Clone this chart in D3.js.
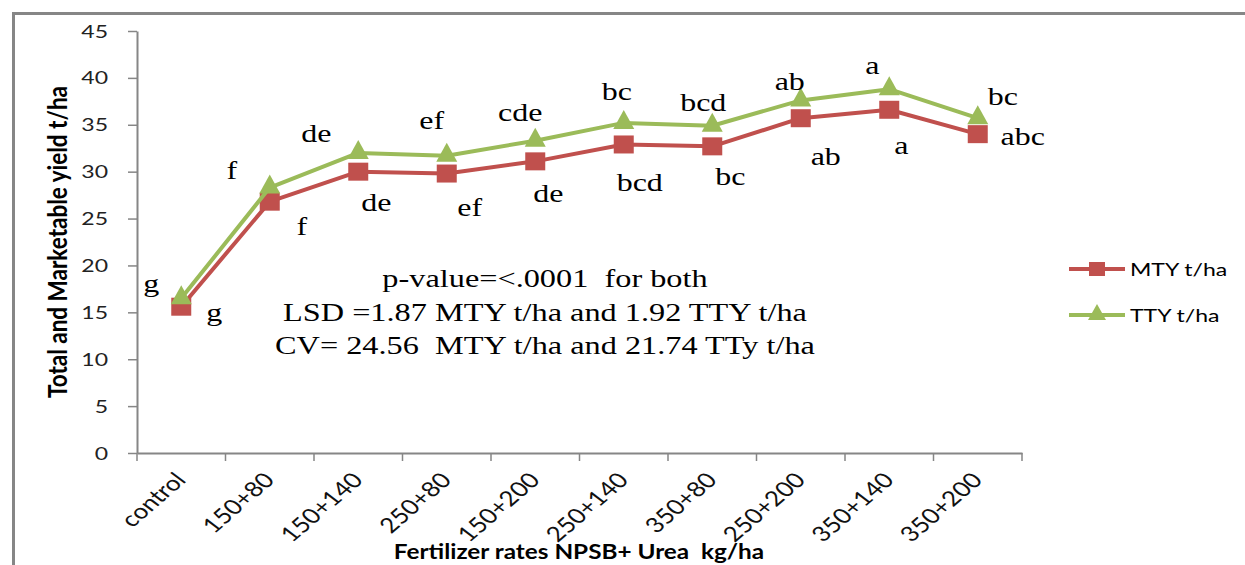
<!DOCTYPE html>
<html><head><meta charset="utf-8">
<script src="https://cdn.jsdelivr.net/npm/d3@7"></script>
<style>body{margin:0;background:#fff} svg{display:block}
.serif{font-family:"Liberation Serif","Times New Roman",Tinos,"DejaVu Serif",serif}
.sans{font-family:Lato,"Open Sans",sans-serif}
</style></head>
<body>
<svg id="c" width="1245" height="565"></svg>
<script>
// ---- data ----
const categories = ["control","150+80","150+140","250+80","150+200","250+140","350+80","250+200","350+140","350+200"];
const mtyValues = [15.6, 26.8, 30.0, 29.8, 31.1, 32.9, 32.7, 35.7, 36.6, 34.0];
const ttyValues = [16.5, 28.3, 32.0, 31.7, 33.3, 35.2, 34.9, 37.6, 38.8, 35.7];
const mtyLetters = ["g","f","de","ef","de","bcd","bc","ab","a","abc"];
const ttyLetters = ["g","f","de","ef","cde","bc","bcd","ab","a","bc"];
const yTicks = [0,5,10,15,20,25,30,35,40,45];
const seriesNames = ["MTY t/ha","TTY t/ha"];
const statLines = ["p-value=<.0001  for both","LSD =1.87 MTY t/ha and 1.92 TTY t/ha","CV= 24.56  MTY t/ha and 21.74 TTy t/ha"];
const yTitle = "Total and Marketable yield t/ha";
const xTitle = "Fertilizer rates NPSB+ Urea  kg/ha";

// ---- layout ----
const SX = 1.28;
const colors = {mty:"#C0504D", tty:"#9BBB59", axis:"#868686"};
const mtyLabelOffset = [[33,7],[32,26],[18,32],[23,35],[13,34],[16,40],[18,32],[25,40],[12,37],[45,4]];
const ttyLabelOffset = [[-30,-13],[-38,-16],[-42,-18],[-15,-34],[-15,-27],[-7,-30],[-9,-22],[-11,-17],[-17,-22],[25,-20]];

const svg = d3.select("#c");
svg.append("rect").attr("x",13.5).attr("y",13.5).attr("width",1260).attr("height",600)
  .attr("fill","#fff").attr("stroke","#868686").attr("stroke-width",3);

const x = d3.scaleBand().domain(categories).range([137,1022]).padding(0);
const y = d3.scaleLinear().domain([0,45]).range([453,31]);
const cx = c => x(c) + x.bandwidth()/2;

// y axis
const yAxis = svg.append("g").attr("transform","translate(137,0)")
  .call(d3.axisLeft(y).tickValues(yTicks).tickSize(9).tickSizeOuter(0).tickPadding(4));
yAxis.select(".domain").attr("stroke",colors.axis).attr("stroke-width",2);
yAxis.selectAll(".tick line").attr("stroke",colors.axis).attr("stroke-width",1.5);
yAxis.selectAll(".tick text").attr("class","sans").attr("font-family",null).attr("font-size",18).attr("fill","#222")
  .attr("x",null).attr("dy",null)
  .attr("text-anchor","end")
  .attr("transform", `translate(-29,6) scale(${SX},1)`);

// x axis
const xAxis = svg.append("g").attr("transform","translate(0,453)")
  .call(d3.axisBottom(x).tickSize(0).tickSizeOuter(0));
xAxis.select(".domain").attr("stroke",colors.axis).attr("stroke-width",2);
xAxis.selectAll(".tick line").remove();
xAxis.selectAll(".tick text").attr("class","sans").attr("font-family",null).attr("font-size",21).attr("fill","#111")
  .attr("y",null).attr("dy",null).attr("text-anchor","end")
  .attr("transform", `translate(6,28) scale(${SX*0.97},1) rotate(-47)`);
const bounds = categories.map(c => x(c)).concat([x(categories[categories.length-1]) + x.bandwidth()]);
svg.append("g").selectAll("line").data(bounds).join("line")
  .attr("x1",d=>d).attr("x2",d=>d).attr("y1",453).attr("y2",461)
  .attr("stroke",colors.axis).attr("stroke-width",1.5);

// series
const line = d3.line().x((d,i)=>cx(categories[i])).y(d=>y(d));
function drawSeries(vals, color, kind){
  svg.append("path").datum(vals).attr("d",line).attr("fill","none")
    .attr("stroke",color).attr("stroke-width",4).attr("stroke-linejoin","round");
  const g = svg.append("g");
  if(kind==="square"){
    g.selectAll("rect").data(vals).join("rect")
      .attr("x",(d,i)=>cx(categories[i])-10).attr("y",d=>y(d)-9)
      .attr("width",20).attr("height",18).attr("fill",color);
  } else {
    g.selectAll("path").data(vals).join("path")
      .attr("transform",(d,i)=>`translate(${cx(categories[i])},${y(d)})`)
      .attr("d","M0,-13 L10.5,6 L-10.5,6 Z").attr("fill",color);
  }
}
drawSeries(mtyValues, colors.mty, "square");
drawSeries(ttyValues, colors.tty, "triangle");

// letters
function drawLetters(vals, letters, offs){
  svg.append("g").selectAll("text").data(vals).join("text")
    .attr("class","serif")
    .attr("transform",(d,i)=>`translate(${cx(categories[i])+offs[i][0]},${y(d)+offs[i][1]+7}) scale(${SX},1)`)
    .attr("text-anchor","middle")
    .attr("font-size",25).attr("fill","#000").text((d,i)=>letters[i]);
}
drawLetters(mtyValues, mtyLetters, mtyLabelOffset);
drawLetters(ttyValues, ttyLetters, ttyLabelOffset);

// stats
svg.append("g").selectAll("text").data(statLines).join("text")
  .attr("class","serif")
  .attr("transform",(d,i)=>`translate(545,${287 + i*33.5}) scale(${SX*1.01},1)`)
  .attr("text-anchor","middle")
  .attr("font-size",25).attr("fill","#000").style("white-space","pre").text(d=>d);

// titles
svg.append("text").attr("class","sans").attr("transform",`translate(67,242) scale(${SX*0.95},1) rotate(-90)`)
  .attr("text-anchor","middle").attr("font-weight","bold")
  .attr("font-size",22.5).attr("fill","#000").text(yTitle);
svg.append("text").attr("class","sans").attr("transform",`translate(579,559) scale(${SX*0.95},1)`)
  .attr("text-anchor","middle").attr("font-weight","bold")
  .attr("font-size",20).attr("fill","#000").style("white-space","pre").text(xTitle);

// legend
const leg = svg.append("g");
const legY = [269, 315];
[colors.mty, colors.tty].forEach((col,i)=>{
  leg.append("line").attr("x1",1069).attr("x2",1125).attr("y1",legY[i]).attr("y2",legY[i])
    .attr("stroke",col).attr("stroke-width",4);
  if(i===0) leg.append("rect").attr("x",1089).attr("y",legY[i]-7).attr("width",16).attr("height",14).attr("fill",col);
  else leg.append("path").attr("transform",`translate(1097,${legY[i]})`).attr("d","M0,-11 L9,5 L-9,5 Z").attr("fill",col);
  leg.append("text").attr("class","sans").attr("transform",`translate(1130,${legY[i]+7}) scale(${SX},1)`)
    .attr("font-size",18).attr("fill","#000").text(seriesNames[i]);
});
</script>
</body></html>
